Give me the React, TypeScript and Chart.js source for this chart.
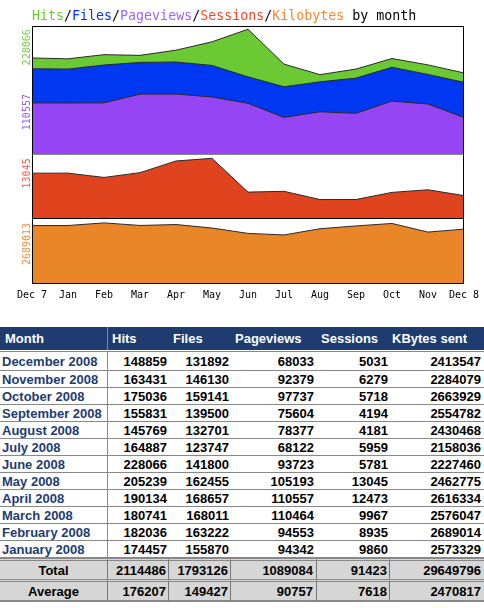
import React, { useEffect, useRef } from "react";
import { Chart, registerables } from "chart.js";

Chart.register(...registerables);

// ---- chart data (Dec 2007 .. Dec 2008) ----
const months = ["Dec 7", "Jan", "Feb", "Mar", "Apr", "May", "Jun", "Jul", "Aug", "Sep", "Oct", "Nov", "Dec 8"];
const hits = [176000, 174457, 182036, 180741, 190134, 205239, 228066, 164887, 145769, 155831, 175036, 163431, 148859];
const files = [156500, 155870, 163222, 168011, 168657, 162455, 141800, 123747, 132701, 139500, 159141, 146130, 131892];
const pageviews = [94500, 94342, 94553, 110464, 110557, 105193, 93723, 68122, 78377, 75604, 97737, 92379, 68033];
const sessions = [9850, 9860, 8935, 9967, 12473, 13045, 5781, 5959, 4181, 4194, 5718, 6279, 5031];
const kbytes = [2570000, 2573329, 2689014, 2576047, 2616334, 2462775, 2227460, 2158036, 2430468, 2554782, 2663929, 2284079, 2413547];

// axis tick labels shown on the left of each panel
const topTicks = [228066, 110557];
const sessionTicks = [13045];
const kbyteTicks = [2689013];

// ---- table data ----
const tableHeaders = ["Month", "Hits", "Files", "Pageviews", "Sessions", "KBytes sent"];
const tableMonths = [
  "December 2008", "November 2008", "October 2008", "September 2008", "August 2008", "July 2008",
  "June 2008", "May 2008", "April 2008", "March 2008", "February 2008", "January 2008",
];
const totalRow = [2114486, 1793126, 1089084, 91423, 29649796];
const averageRow = [176207, 149427, 90757, 7618, 2470817];

const C = {
  hits: "#6bc934",
  files: "#0037f0",
  pages: "#9545f4",
  sessions: "#e0441f",
  kbytes: "#e88628",
};

const MONO = '"DejaVu Sans Mono", monospace';

const framePlugin = {
  id: "panelFrames",
  afterDatasetsDraw(chart: any) {
    const { ctx, chartArea } = chart;
    const l = Math.round(chartArea.left) + 0.5;
    const r = Math.round(chartArea.right) - 0.5;
    ctx.save();
    ctx.lineWidth = 1;
    ctx.strokeStyle = "#000";
    ctx.strokeRect(l, Math.round(chartArea.top) + 0.5, r - l, Math.round(chartArea.bottom - chartArea.top) - 1);
    const sTop = chart.scales.yTop;
    const sSes = chart.scales.ySes;
    ctx.strokeStyle = "#888";
    ctx.beginPath();
    ctx.moveTo(l, Math.round(sTop.bottom) - 0.5);
    ctx.lineTo(r, Math.round(sTop.bottom) - 0.5);
    ctx.stroke();
    ctx.strokeStyle = "#000";
    ctx.beginPath();
    ctx.moveTo(l, Math.round(sSes.bottom) - 0.5);
    ctx.lineTo(r, Math.round(sSes.bottom) - 0.5);
    ctx.stroke();
    ctx.restore();
  },
};

function yAxis(max: number, weight: number, tickValues: number[], colorFor: (v: number) => string) {
  return {
    type: "linear",
    position: "left",
    stack: "panels",
    stackWeight: weight,
    min: 0,
    max,
    grid: { display: false, drawTicks: false },
    border: { display: false },
    afterBuildTicks: (s: any) => {
      s.ticks = tickValues.map((v) => ({ value: v }));
    },
    afterFit: (s: any) => {
      s.width = 32;
    },
    ticks: {
      autoSkip: false,
      minRotation: 90,
      maxRotation: 90,
      padding: 5,
      font: { family: MONO, size: 10 },
      color: (ctx: any) => colorFor(ctx.tick ? ctx.tick.value : 0),
      callback: (v: any) => String(v),
    },
  };
}

function area(label: string, data: number[], color: string, axis: string, order: number) {
  return {
    label,
    data,
    yAxisID: axis,
    order,
    backgroundColor: color,
    borderColor: "#2a2a2a",
    borderWidth: 1,
    fill: "origin",
    pointRadius: 0,
    tension: 0,
  };
}

function StatsChart() {
  const ref = useRef<HTMLCanvasElement | null>(null);
  useEffect(() => {
    if (!ref.current) return;
    const chart = new Chart(ref.current, {
      type: "line",
      data: {
        labels: months,
        datasets: [
          area("Hits", hits, C.hits, "yTop", 2),
          area("Files", files, C.files, "yTop", 1),
          area("Pageviews", pageviews, C.pages, "yTop", 0),
          area("Sessions", sessions, C.sessions, "ySes", 3),
          area("Kilobytes", kbytes, C.kbytes, "yKb", 4),
        ] as any,
      },
      options: {
        responsive: false,
        animation: false,
        layout: { padding: { top: 26, right: 20, left: 0, bottom: 0 } },
        plugins: { legend: { display: false }, tooltip: { enabled: false }, title: { display: false } },
        scales: {
          x: {
            type: "category",
            offset: false,
            grid: { display: false, drawTicks: false },
            border: { display: false },
            afterFit: (s: any) => {
              s.height = 26;
            },
            ticks: {
              autoSkip: false,
              maxRotation: 0,
              minRotation: 0,
              padding: 5,
              color: "#000",
              font: { family: MONO, size: 10 },
            },
          },
          yKb: yAxis(2860000, 65, kbyteTicks, () => "#ee8a3a"),
          ySes: yAxis(13760, 64, sessionTicks, () => "#ee6450"),
          yTop: yAxis(234000, 129, topTicks, (v) => (v === topTicks[0] ? "#74cc44" : "#9a5cf6")),
        } as any,
      },
      plugins: [framePlugin],
    });
    return () => chart.destroy();
  }, []);
  return <canvas ref={ref} width={484} height={310} style={{ position: "absolute", left: 0, top: 0, display: "block" }} />;
}

function Title() {
  const parts: [string, string][] = [
    ["Hits", "#66cc33"],
    ["/", "#000"],
    ["Files", "#0033ff"],
    ["/", "#000"],
    ["Pageviews", "#9966ff"],
    ["/", "#000"],
    ["Sessions", "#f04a2a"],
    ["/", "#000"],
    ["Kilobytes", "#f08a30"],
    [" by month", "#000"],
  ];
  return (
    <div
      style={{
        position: "absolute",
        left: 32,
        top: 8,
        fontFamily: MONO,
        fontSize: 13.3,
        lineHeight: "16px",
        whiteSpace: "pre",
        zIndex: 2,
      }}
    >
      {parts.map(([t, c], i) => (
        <span key={i} style={{ color: c }}>
          {t}
        </span>
      ))}
    </div>
  );
}

const NAVY = "#1e3c6f";
const colWidths = [108, 61, 62, 86, 73, 94];

function StatsTable() {
  const rows = tableMonths.map((m, i) => {
    const k = months.length - 1 - i;
    return [m, hits[k], files[k], pageviews[k], sessions[k], kbytes[k]];
  });
  const numCell = (right: number): React.CSSProperties => ({
    textAlign: "right",
    paddingRight: right,
    paddingLeft: 0,
  });
  const padR = [0, 2, 2, 3, 2, 3];
  const cellBase: React.CSSProperties = { padding: 0, whiteSpace: "nowrap", overflow: "hidden" };
  const footRow = (label: string, vals: number[], last: boolean) => (
    <tr style={{ height: last ? 23 : 21 }}>
      {[label, ...vals].map((v, j) => (
        <td
          key={j}
          style={{
            ...cellBase,
            background: "#d6d6d6",
            borderTop: "3px double #888",
            borderBottom: last ? "2px solid #888" : undefined,
            borderRight: j < 5 ? "1px solid #777" : undefined,
            color: "#000",
            ...(j === 0 ? { textAlign: "center" } : numCell(padR[j])),
          }}
        >
          {v}
        </td>
      ))}
    </tr>
  );
  return (
    <table
      style={{
        position: "absolute",
        top: 327,
        left: 0,
        width: 484,
        tableLayout: "fixed",
        borderCollapse: "separate",
        borderSpacing: 0,
        fontFamily: '"Liberation Sans", Arial, Helvetica, sans-serif',
        fontWeight: "bold",
        fontSize: 13,
        lineHeight: "15px",
      }}
    >
      <colgroup>
        {colWidths.map((w, i) => (
          <col key={i} style={{ width: w }} />
        ))}
      </colgroup>
      <thead>
        <tr style={{ height: 24 }}>
          {tableHeaders.map((h, j) => (
            <th
              key={j}
              style={{
                ...cellBase,
                background: NAVY,
                color: "#fff",
                textAlign: "left",
                paddingLeft: j === 0 ? 5 : j === 5 ? 2 : 4,
                borderBottom: "1px solid #fff",
                borderRight: j === 0 ? "1px solid #8a8a8a" : undefined,
                fontWeight: "bold",
              }}
            >
              {h}
            </th>
          ))}
        </tr>
      </thead>
      <tbody>
        {rows.map((r, i) => (
          <tr key={i} style={{ height: i === 0 ? 20 : 17 }}>
            {r.map((v, j) => (
              <td
                key={j}
                style={{
                  ...cellBase,
                  borderTop: i === 0 ? "1px solid #888" : undefined,
                  borderBottom: "1px solid #888",
                  borderRight: j === 0 ? "1px solid #888" : undefined,
                  color: j === 0 ? NAVY : "#000",
                  ...(j === 0 ? { textAlign: "left", paddingLeft: 2 } : numCell(padR[j])),
                }}
              >
                {v}
              </td>
            ))}
          </tr>
        ))}
        {footRow("Total", totalRow, false)}
        {footRow("Average", averageRow, true)}
      </tbody>
    </table>
  );
}

export default function App() {
  return (
    <div style={{ position: "absolute", left: 0, top: 0, width: 484, height: 608, background: "#fff" }}>
      <StatsChart />
      <Title />
      <StatsTable />
    </div>
  );
}
